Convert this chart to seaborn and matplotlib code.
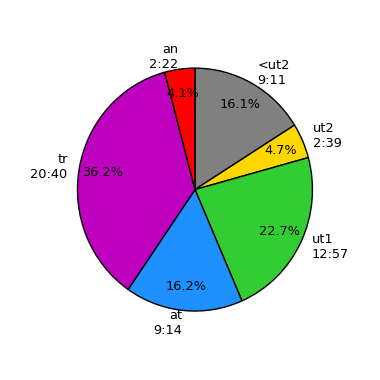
import matplotlib
matplotlib.use("Agg")
import matplotlib.pyplot as plt
import seaborn as sns

categories = ["<ut2", "ut2", "ut1", "at", "tr", "an"]
durations = ["9:11", "2:39", "12:57", "9:14", "20:40", "2:22"]
seconds = [551, 159.6, 777, 554, 1240, 142]
colors = ["gray", "gold", "limegreen", "dodgerblue", "m", "red"]

sns.set_style("white")
plt.rcParams['font.family'] = ['DejaVu Sans']

fig = plt.figure(figsize=(3.8, 3.8), dpi=100)
ax = fig.add_axes([0.1266, 0.1016, 0.773, 0.799])
labels = [f"{c}\n{d}" for c, d in zip(categories, durations)]
ax.pie(seconds, labels=labels, colors=colors, autopct="%1.1f%%",
       startangle=90, counterclock=False, pctdistance=0.8,
       wedgeprops=dict(edgecolor="black", linewidth=1),
       textprops=dict(fontsize=9.3, color="black"))
ax.set_aspect("auto")
ax.set_xlim(-1.25, 1.25)
ax.set_ylim(-1.25, 1.25)
fig.savefig("out.png", dpi=100)
